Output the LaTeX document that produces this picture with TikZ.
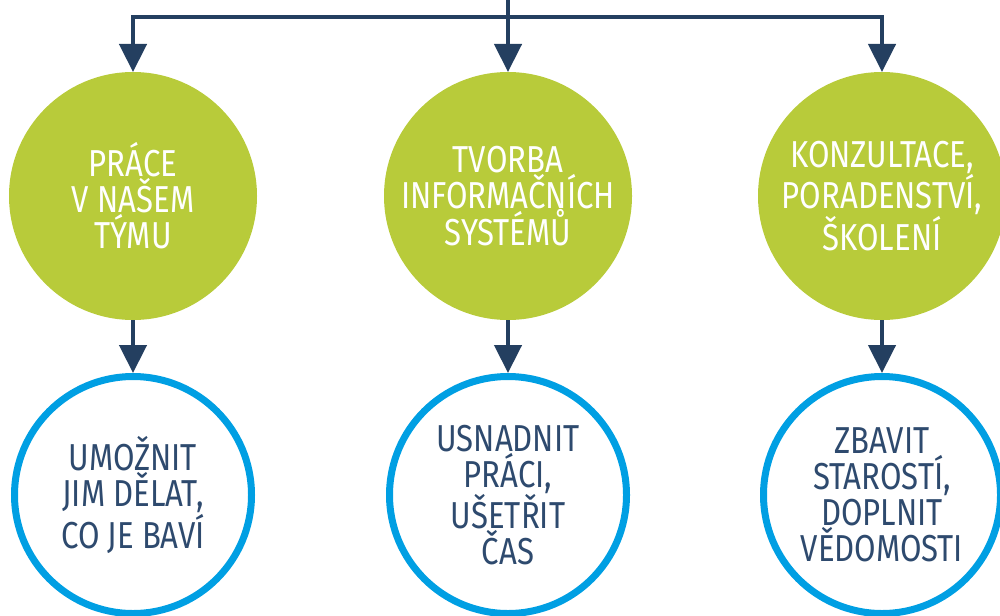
\documentclass[tikz,border=0pt]{standalone}
\usepackage{fontspec}
\setmainfont{Fira Sans}[FakeStretch=0.83]
\usetikzlibrary{arrows.meta}
\definecolor{leaf}{HTML}{B8CB3A}
\definecolor{navy}{HTML}{243F60}
\definecolor{sky}{HTML}{009FE3}
\definecolor{ink}{HTML}{2E4A6E}
\tikzset{
	topic/.style={circle,fill=leaf,minimum size=248pt,inner sep=0pt,outer sep=0pt,text=white,align=center,font=\fontsize{37.5}{36}\selectfont},
	goal/.style={circle,draw=sky,line width=7pt,minimum size=237pt,inner sep=0pt,text=ink,align=center,font=\fontsize{37.5}{36}\selectfont},
	link/.style={draw=navy,line width=4.5pt,-{Triangle[width=27pt,length=28pt]}}
}
\begin{document}
\begin{tikzpicture}[x=1pt,y=-1pt]
		\useasboundingbox (0,0) rectangle (1000,615);
		\clip (0,0) rectangle (1000,615);
		\node[topic] (g1) at (133,196) {PRÁCE\\V NAŠEM\\TÝMU};
		\node[topic] (g2) at (508,196) {TVORBA\\INFORMAČNÍCH\\SYSTÉMŮ};
		\node[topic] (g3) at (882,196) {KONZULTACE,\\PORADENSTVÍ,\\ŠKOLENÍ};
		\node[goal] (b1) at (133,495) {UMOŽNIT\\JIM DĚLAT,\\CO JE BAVÍ};
		\node[goal] (b2) at (508,495) {USNADNIT\\PRÁCI,\\UŠETŘIT\\ČAS};
		\node[goal] (b3) at (882,495) {ZBAVIT\\STAROSTÍ,\\DOPLNIT\\VĚDOMOSTI};
		\coordinate (top) at (508,-5);
		\coordinate (split) at (508,17);
		\draw[link] (top) -- (g2.north);
		\draw[link] (split) -| (g1.north);
		\draw[link] (split) -| (g3.north);
		\foreach \i in {1,2,3}
		\draw[link] (g\i.south) -- (b\i.north);
	\end{tikzpicture}
\end{document}
